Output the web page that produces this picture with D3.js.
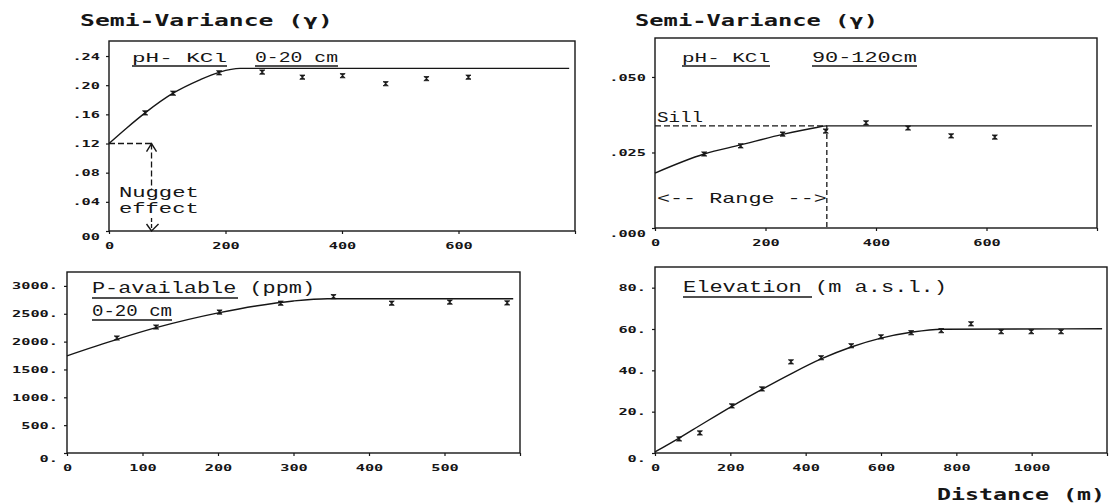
<!DOCTYPE html>
<html><head><meta charset="utf-8">
<script src="https://cdn.jsdelivr.net/npm/d3@7"></script>
<style>html,body{margin:0;padding:0;background:#fff}</style>
</head><body><svg id="chart" width="1109" height="503"></svg>
<script>
// ---------- DATA ----------
// Panel A: pH-KCl 0-20 cm
const phTopLag   = [62,110,189,263,332,401,475,545,617];
const phTopGamma = [0.162,0.189,0.217,0.218,0.211,0.213,0.202,0.209,0.211];
const phTopModelLag   = [0,30,62,110,155,190,225,790];
const phTopModelGamma = [0.120,0.141,0.162,0.189,0.207,0.218,0.223,0.223];
const phTopNugget = 0.12, phTopNuggetLag = 73;
const phTopXTicks = [0,200,400,600,800];
const phTopXLabels = ["0","200","400","600",""];
const phTopYTicks = [0,0.04,0.08,0.12,0.16,0.20,0.24];
const phTopYLabels = ["00",".04",".08",".12",".16",".20",".24"];

// Panel B: pH-KCl 90-120 cm
const phDeepLag   = [89,155,231,309,382,458,536,615];
const phDeepGamma = [0.0245,0.0272,0.0311,0.0321,0.0348,0.0331,0.0305,0.0301];
const phDeepModelLag   = [0,89,155,231,290,311,791];
const phDeepModelGamma = [0.0182,0.0245,0.0275,0.0310,0.0332,0.0338,0.0338];
const phDeepSill = 0.0338, phDeepRange = 311;
const phDeepXTicks = [0,200,400,600,800];
const phDeepXLabels = ["0","200","400","600",""];
const phDeepYTicks = [0,0.025,0.05];
const phDeepYLabels = [".000",".025",".050"];

// Panel C: P-available (ppm) 0-20 cm
const pLag   = [66,118,202,283,353,430,507,583];
const pGamma = [2065,2262,2531,2690,2808,2690,2710,2695];
const pModelLag   = [0,66,118,202,250,300,345,591];
const pModelGamma = [1745,2040,2250,2520,2640,2730,2770,2770];
const pXTicks = [0,100,200,300,400,500,600];
const pXLabels = ["0","100","200","300","400","500",""];
const pYTicks = [0,500,1000,1500,2000,2500,3000];
const pYLabels = ["0.","500.","1000.","1500.","2000.","2500.","3000."];

// Panel D: Elevation (m a.s.l.)
const eLag   = [64,119,204,284,361,441,521,600,680,760,839,919,999,1078];
const eGamma = [6.8,9.7,22.8,31.0,44.1,46.1,51.9,56.2,58.2,59.2,62.5,58.7,58.7,58.7];
const eModelLag   = [0,64,119,204,284,361,441,521,600,680,760,1187];
const eModelGamma = [0.5,7.2,13.3,22.6,30.8,38.3,45.5,51.3,55.6,58.4,59.9,60.1];
const eXTicks = [0,200,400,600,800,1000,1200];
const eXLabels = ["0","200","400","600","800","1000",""];
const eYTicks = [0,20,40,60,80];
const eYLabels = ["0.","20.","40.","60.","80."];

// ---------- DRAWING ----------
const svg = d3.select("#chart");
svg.append("rect").attr("width",1109).attr("height",503).attr("fill","#fff");
const INK = "#161616";
const MONO = "'Liberation Mono', 'DejaVu Sans Mono', monospace";
const BOLD = "'DejaVu Sans Mono', monospace";

function txt(g, s, x, y, width, opts={}) {
  const t = g.append("text").attr("x",x).attr("y",y).text(s)
    .attr("font-family", opts.family || MONO)
    .attr("font-size", opts.size || 13.5)
    .attr("font-weight", opts.weight || "normal")
    .attr("fill", INK);
  if (width) t.attr("textLength", width).attr("lengthAdjust","spacingAndGlyphs");
  if (opts.underline) {
    g.append("line").attr("x1",x).attr("x2",x+(opts.ulWidth||width))
      .attr("y1",y+opts.underline).attr("y2",y+opts.underline)
      .attr("stroke",INK).attr("stroke-width",1.3);
  }
  return t;
}

function panel(cfg) {
  const g = svg.append("g");
  const xs = d3.scaleLinear().domain(cfg.xDomain).range(cfg.xRange);
  const ys = d3.scaleLinear().domain(cfg.yDomain).range(cfg.yRange);
  const ax = g.append("g").attr("transform",`translate(0,${cfg.yRange[0]})`)
    .call(d3.axisBottom(xs).tickValues(cfg.xTicks).tickSize(3).tickSizeOuter(0)
      .tickFormat((d,i)=>cfg.xLabels[i]));
  const ay = g.append("g").attr("transform",`translate(${cfg.xRange[0]},0)`)
    .call(d3.axisLeft(ys).tickValues(cfg.yTicks).tickSize(3).tickSizeOuter(0)
      .tickFormat((d,i)=>cfg.yLabels[i]));
  [ax,ay].forEach(a=>{
    a.select(".domain").remove();
    a.selectAll(".tick line").attr("stroke",INK).attr("stroke-width",1.2);
    a.selectAll(".tick text").attr("font-family",BOLD).attr("font-weight","bold")
      .attr("font-size",8.5).attr("fill",INK)
      .each(function(){
        const s = d3.select(this).text();
        if (s.length) d3.select(this).attr("textLength", s.length*9.2).attr("lengthAdjust","spacingAndGlyphs");
      });
  });
  ax.selectAll(".tick text").attr("y",18).attr("dy",0);
  ay.selectAll(".tick text").attr("x",-9).attr("dy","0.36em")
    .attr("y",(d)=> d===0 ? 5 : 0);
  g.append("rect").attr("x",cfg.xRange[0]).attr("y",cfg.yRange[1])
    .attr("width",cfg.xRange[1]-cfg.xRange[0]).attr("height",cfg.yRange[0]-cfg.yRange[1])
    .attr("fill","none").attr("stroke",INK).attr("stroke-width",1.4);
  const model = cfg.modelLag.map((d,i)=>[d,cfg.modelGamma[i]]);
  g.append("path").datum(model)
    .attr("d", d3.line().x(d=>xs(d[0])).y(d=>ys(d[1])).curve(d3.curveMonotoneX))
    .attr("fill","none").attr("stroke",INK).attr("stroke-width",1.4);
  const pts = cfg.lag.map((d,i)=>[d,cfg.gamma[i]]);
  g.selectAll("path.pt").data(pts).join("path").attr("class","pt")
    .attr("transform",d=>`translate(${xs(d[0])},${ys(d[1])})`)
    .attr("d","M-2.6,-2.1L2.6,-2.1L-2.6,2.1L2.6,2.1Z")
    .attr("fill",INK).attr("stroke",INK).attr("stroke-width",0.8);
  return {g,xs,ys};
}

const A = panel({xDomain:[0,800], xRange:[109,575], yDomain:[0,0.2606], yRange:[231,41],
  xTicks:phTopXTicks, xLabels:phTopXLabels, yTicks:phTopYTicks, yLabels:phTopYLabels,
  lag:phTopLag, gamma:phTopGamma, modelLag:phTopModelLag, modelGamma:phTopModelGamma});
const B = panel({xDomain:[0,800], xRange:[655,1097], yDomain:[0,0.0629], yRange:[228,38],
  xTicks:phDeepXTicks, xLabels:phDeepXLabels, yTicks:phDeepYTicks, yLabels:phDeepYLabels,
  lag:phDeepLag, gamma:phDeepGamma, modelLag:phDeepModelLag, modelGamma:phDeepModelGamma});
const C = panel({xDomain:[0,600], xRange:[67,520], yDomain:[0,3250], yRange:[453,272],
  xTicks:pXTicks, xLabels:pXLabels, yTicks:pYTicks, yLabels:pYLabels,
  lag:pLag, gamma:pGamma, modelLag:pModelLag, modelGamma:pModelGamma});
const D = panel({xDomain:[0,1200], xRange:[655,1107], yDomain:[0,90], yRange:[453,267],
  xTicks:eXTicks, xLabels:eXLabels, yTicks:eYTicks, yLabels:eYLabels,
  lag:eLag, gamma:eGamma, modelLag:eModelLag, modelGamma:eModelGamma});

// Titles
txt(svg,"Semi-Variance (γ)",80,26,253,{family:BOLD,weight:"bold",size:16.5});
txt(svg,"Semi-Variance (γ)",635,26,243,{family:BOLD,weight:"bold",size:16.5});
txt(svg,"Distance (m)",937,500,168,{family:BOLD,weight:"bold",size:15});

// Panel A labels
txt(A.g,"pH- KCl",132,62,95,{underline:4});
txt(A.g,"0-20 cm",255,62,83,{underline:4,size:14.5});
{
  const xs=A.xs, ys=A.ys, nx=xs(phTopNuggetLag);
  const dash="6,3";
  A.g.append("line").attr("x1",xs(0)).attr("x2",nx).attr("y1",ys(phTopNugget)).attr("y2",ys(phTopNugget))
    .attr("stroke",INK).attr("stroke-width",1.3).attr("stroke-dasharray",dash);
  A.g.append("line").attr("x1",nx).attr("x2",nx).attr("y1",ys(phTopNugget)).attr("y2",ys(0.056))
    .attr("stroke",INK).attr("stroke-width",1.3).attr("stroke-dasharray",dash);
  A.g.append("line").attr("x1",nx).attr("x2",nx).attr("y1",ys(0.018)).attr("y2",ys(0))
    .attr("stroke",INK).attr("stroke-width",1.3).attr("stroke-dasharray","4,2");
  const ty=ys(phTopNugget);
  A.g.append("path").attr("d",`M${nx-5},${ty+8}L${nx},${ty}L${nx+5},${ty+8}`)
    .attr("fill","none").attr("stroke",INK).attr("stroke-width",1.4);
  const by=ys(0);
  A.g.append("path").attr("d",`M${nx-5},${by-7}L${nx},${by}L${nx+7},${by-7}`)
    .attr("fill","none").attr("stroke",INK).attr("stroke-width",1.4);
  txt(A.g,"Nugget",xs(17),ys(0.0466),80,{size:14});
  txt(A.g,"effect",xs(17),ys(0.0247),80,{size:14});
}

// Panel B labels
txt(B.g,"pH- KCl",682,62,88,{underline:4});
txt(B.g,"90-120cm",812,62,105,{underline:4,size:14});
{
  const xs=B.xs, ys=B.ys;
  B.g.append("line").attr("x1",xs(0)).attr("x2",xs(phDeepRange)).attr("y1",ys(phDeepSill)).attr("y2",ys(phDeepSill))
    .attr("stroke",INK).attr("stroke-width",1.3).attr("stroke-dasharray","6,3");
  B.g.append("line").attr("x1",xs(phDeepRange)).attr("x2",xs(phDeepRange)).attr("y1",ys(phDeepSill)).attr("y2",ys(0))
    .attr("stroke",INK).attr("stroke-width",1.3).attr("stroke-dasharray","5,3");
  txt(B.g,"Sill",xs(0)+2,ys(phDeepSill)-4,46,{size:15});
  txt(B.g,"<-- Range -->",xs(0)+2,ys(0.0083),xs(phDeepRange)-xs(0)-2,{size:15});
}

// Panel C labels
txt(C.g,"P-available (ppm)",92,293,223,{underline:5,ulWidth:146,size:16.5});
txt(C.g,"0-20 cm",92,316,80,{underline:4,size:16});

// Panel D labels
txt(D.g,"Elevation (m a.s.l.)",683,292,264,{underline:5,ulWidth:129,size:16.5});
</script></body></html>
